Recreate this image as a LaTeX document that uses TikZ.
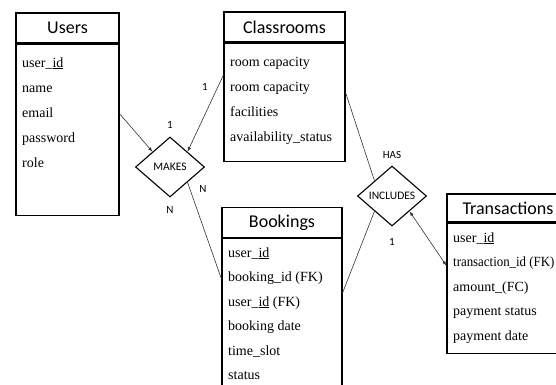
\documentclass[tikz,border=0pt]{standalone}
\usepackage{fontspec}
\setmainfont{Liberation Serif}
\newfontfamily\headfont{Carlito}
\usetikzlibrary{shapes.geometric}

\tikzset{
	head/.style = {draw, line width = 1.1pt, minimum height = 30pt, inner sep = 0pt,
		font = \headfont\fontsize{18}{20}\selectfont},
	body/.style = {draw, line width = 1.1pt, anchor = north, inner sep = 0pt},
	attr/.style = {anchor = base west, inner sep = 0pt, font = \fontsize{14}{16}\selectfont},
	rel/.style = {diamond, draw, line width = 1.1pt, minimum width = 69pt, minimum height = 60pt,
		inner sep = 0pt, fill = white, font = \headfont\fontsize{11.5}{13}\selectfont},
	card/.style = {inner sep = 0pt, font = \headfont\fontsize{11}{13}\selectfont},
	link/.style = {line width = 0.6pt, black!80, > = latex}
}

\begin{document}
\begin{tikzpicture}[x = 1pt, y = -1pt]

	\useasboundingbox (0, 0) rectangle (556, 384);
	\clip (0, 0) rectangle (556, 384);

	% Entity boxes with attribute lists

	\node [head, minimum width = 103pt] (users) at (67.5, 28) {Users};
	\node [body, minimum width = 103pt, minimum height = 171pt] (users body) at (users.south) {};
	\foreach \a [count = \i] in {user\_\underline{id}, name, email, password, role}
		\node [attr] (users \i) at (22, 42 + 25 * \i) {\a};

	\node [head, minimum width = 121pt] (classrooms) at (284.5, 27) {Classrooms};
	\node [body, minimum width = 121pt, minimum height = 118pt] (classrooms body) at (classrooms.south) {};
	\foreach \a [count = \i] in {room capacity, room capacity, facilities, availability\_status}
		\node [attr] (classrooms \i) at (230, 41 + 25 * \i) {\a};

	\node [head, minimum width = 120pt] (bookings) at (282, 222.5) {Bookings};
	\node [body, minimum width = 120pt, minimum height = 162.5pt] (bookings body) at (bookings.south) {};
	\foreach \a [count = \i] in {user\_\underline{id}, booking\_id (FK), user\_\underline{id} (FK), booking date, time\_slot, status}
		\node [attr] (bookings \i) at (228, 232.5 + 24.5 * \i) {\a};

	\node [head, minimum width = 122pt, minimum height = 28pt] (transactions) at (508, 208) {Transactions};
	\node [body, minimum width = 122pt, minimum height = 130pt] (transactions body) at (transactions.south) {};
	\foreach \a [count = \i] in {user\_\underline{id}, {\addfontfeature{FakeStretch = 0.92}transaction\_id (FK)}, amount\_(FC), payment status, payment date}
		\node [attr] (transactions \i) at (453, 217.4 + 24.6 * \i) {\a};

	% Relationships and their links

	\node [rel] (makes) at (170, 167) {MAKES};
	\node [rel] (includes) at (392, 196) {INCLUDES};

	\draw [link, ->] (users body.17) -- (makes.north west);
	\draw [link, ->] (classrooms body.156) -- (makes.north east);
	\draw [link] (makes.south east) -- (bookings body.146.5);
	\draw [link] (classrooms body.9) -- (includes.north west);
	\draw [link] (bookings body.24) -- (includes.south west);
	\draw [link, <->] (includes.south east) -- (transactions body.160);

	% Cardinalities

	\node [card] (makes top) at (170, 125) {1};
	\node [card] (classrooms card) at (205, 87) {1};
	\node [card] (makes right) at (203, 189) {N};
	\node [card] (makes bottom) at (170, 210) {N};
	\node [card] (includes top) at (392, 155) {HAS};
	\node [card] (includes bottom) at (392, 242) {1};

\end{tikzpicture}
\end{document}
